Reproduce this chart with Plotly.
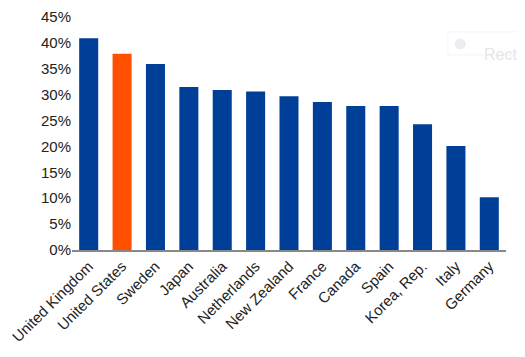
import plotly.graph_objects as go

countries = ["United Kingdom", "United States", "Sweden", "Japan", "Australia", "Netherlands",
             "New Zealand", "France", "Canada", "Spain", "Korea, Rep.", "Italy", "Germany"]
values = [40.9, 37.9, 35.9, 31.5, 30.9, 30.6, 29.7, 28.6, 27.8, 27.8, 24.3, 20.1, 10.2]
highlight = "United States"
colors = ["#FF5000" if c == highlight else "#003F98" for c in countries]

fig = go.Figure(go.Bar(x=countries, y=[v / 100 for v in values], marker_color=colors,
                       marker_line_width=0))
# page body has an 8px default margin, so the figure is sized 517x349
fig.update_layout(
    width=517, height=349,
    margin=dict(l=64, r=19, t=9, b=107, autoexpand=False),
    paper_bgcolor="white", plot_bgcolor="white",
    bargap=0.43, showlegend=False,
    font=dict(family="Liberation Sans, Arial, sans-serif", size=15, color="#222222"),
)
fig.update_yaxes(range=[0, 0.45], dtick=0.05, tickformat=".0%", showgrid=False,
                 zeroline=False, ticks="", showline=False, automargin=False)
fig.update_xaxes(tickangle=-45, showline=True, linecolor="#888888", linewidth=1.5,
                 ticks="", showgrid=False, automargin=False)
# faint ghost legend box at top right
fig.add_shape(type="rect", xref="paper", yref="paper", x0=0.866, x1=1.06, y0=0.837, y1=0.936,
              line=dict(color="#f1f4fa", width=1), fillcolor="rgba(0,0,0,0)")
fig.add_shape(type="circle", xref="paper", yref="paper", x0=0.883, x1=0.906, y0=0.863, y1=0.905,
              line=dict(color="#e9e9f0", width=1), fillcolor="#ececf2")
fig.add_annotation(xref="paper", yref="paper", x=0.945, y=0.884, xanchor="left",
                   text="Recta", showarrow=False,
                   font=dict(size=16, color="#e6e6e6"))
fig.write_html("out.html")
